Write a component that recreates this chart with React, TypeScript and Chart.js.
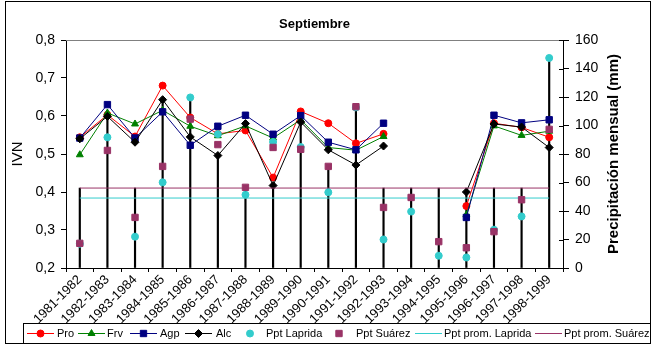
import React, { useEffect, useRef } from "react";
import { Chart, registerables } from "chart.js";
import { drawPoint } from "chart.js/helpers";

Chart.register(...registerables);

const categories = [
  "1981-1982", "1982-1983", "1983-1984", "1984-1985", "1985-1986", "1986-1987",
  "1987-1988", "1988-1989", "1989-1990", "1990-1991", "1991-1992", "1992-1993",
  "1993-1994", "1994-1995", "1995-1996", "1996-1997", "1997-1998", "1998-1999",
];

const pro = [0.544, 0.603, 0.546, 0.68, 0.596, 0.553, 0.562, 0.438, 0.612, 0.581, 0.528, 0.553, null, null, 0.363, 0.581, 0.57, 0.544];
const frv = [0.498, 0.608, 0.579, 0.615, 0.573, 0.548, 0.574, 0.542, 0.59, 0.517, 0.51, 0.546, null, null, 0.34, 0.574, 0.549, 0.56];
const agp = [0.542, 0.63, 0.542, 0.611, 0.523, 0.573, 0.602, 0.552, 0.601, 0.531, 0.511, 0.581, null, null, 0.333, 0.602, 0.582, 0.59];
const alc = [0.54, 0.599, 0.531, 0.643, 0.545, 0.496, 0.58, 0.417, 0.584, 0.511, 0.471, 0.521, null, null, 0.4, 0.579, 0.571, 0.517];

const pptLaprida = [17, 91.7, 22, 60.1, 119.7, 94, 51.4, 88.4, 84.9, 53.1, 112.7, 20, 39.6, 8.6, 7.4, 26.9, 36.2, 147.4];
const pptSuarez = [17.3, 82.5, 35.5, 71.3, 104.5, 86.6, 56.6, 84.6, 83.3, 71.3, 113.2, 42.5, 49.5, 18.5, 14.2, 25.5, 47.9, 97.3];

const pptPromLaprida = [49.1, 49.1, 49.1, 49.1, 49.1, 49.1, 49.1, 49.1, 49.1, 49.1, 49.1, 49.1, 49.1, 49.1, 49.1, 49.1, 49.1, 49.1];
const pptPromSuarez = [56.1, 56.1, 56.1, 56.1, 56.1, 56.1, 56.1, 56.1, 56.1, 56.1, 56.1, 56.1, 56.1, 56.1, 56.1, 56.1, 56.1, 56.1];

// tops of the vertical drop lines (mm, right axis)
const dropLineTop = [56.1, 106.4, 56.1, 118.1, 119.7, 78.8, 56.1, 57.8, 102.9, 71.3, 113.4, 56.1, 56.1, 56.1, 56.1, 56.1, 56.1, 147.4];

const yTicksLeft = { min: 0.2, max: 0.8, step: 0.1 };
const yTicksRight = { min: 0, max: 160, step: 20 };

const FONT = "'Liberation Sans', Arial, sans-serif";
const RED = "#FF0000";
const GREEN = "#008000";
const NAVY = "#000080";
const BLACK = "#000000";
const CYAN = "#33CCCC";
const PURPLE = "#993366";

type LegendItem = {
  label: string;
  color: string;
  line: boolean;
  pointStyle?: string;
  radius?: number;
  symX: number;
  textX: number;
};

const legendItems: LegendItem[] = [
  { label: "Pro", color: RED, line: true, pointStyle: "circle", radius: 3.5, symX: 27, textX: 57 },
  { label: "Frv", color: GREEN, line: true, pointStyle: "triangle", radius: 4, symX: 78, textX: 107 },
  { label: "Agp", color: NAVY, line: true, pointStyle: "rect", radius: 4.5, symX: 130, textX: 160 },
  { label: "Alc", color: BLACK, line: true, pointStyle: "rectRot", radius: 4, symX: 185, textX: 216 },
  { label: "Ppt Laprida", color: CYAN, line: false, pointStyle: "circle", radius: 3.5, symX: 250, textX: 266 },
  { label: "Ppt Suárez", color: PURPLE, line: false, pointStyle: "rect", radius: 4.5, symX: 339, textX: 356 },
  { label: "Ppt prom. Laprida", color: CYAN, line: true, symX: 415, textX: 444 },
  { label: "Ppt prom. Suárez", color: PURPLE, line: true, symX: 535, textX: 564 },
];

const decorPlugin = {
  id: "decor",
  afterDraw(chart: any) {
    const ctx = chart.ctx as CanvasRenderingContext2D;
    const area = chart.chartArea;
    ctx.save();

    // top gray border of plot area
    ctx.strokeStyle = "#808080";
    ctx.lineWidth = 1;
    ctx.beginPath();
    ctx.moveTo(area.left, area.top + 0.5);
    ctx.lineTo(area.right, area.top + 0.5);
    ctx.stroke();

    // inner tick marks on right axis
    const y2 = chart.scales.y2;
    ctx.strokeStyle = BLACK;
    ctx.beginPath();
    for (let v = yTicksRight.min; v <= yTicksRight.max; v += yTicksRight.step) {
      const py = Math.round(y2.getPixelForValue(v)) + 0.5;
      ctx.moveTo(area.right - 4, py);
      ctx.lineTo(area.right, py);
    }
    ctx.stroke();

    // chart title
    ctx.fillStyle = BLACK;
    ctx.font = `bold 13px ${FONT}`;
    ctx.textAlign = "center";
    ctx.textBaseline = "middle";
    ctx.fillText("Septiembre", (area.left + area.right) / 2, 24);

    // left axis title
    ctx.save();
    ctx.translate(18, (area.top + area.bottom) / 2);
    ctx.rotate(-Math.PI / 2);
    ctx.font = `15px ${FONT}`;
    ctx.fillText("IVN", 0, 0);
    ctx.restore();

    // right axis title
    ctx.save();
    ctx.translate(614, (area.top + area.bottom) / 2);
    ctx.rotate(-Math.PI / 2);
    ctx.font = `bold 15px ${FONT}`;
    ctx.fillText("Precipitación mensual (mm)", 0, 0);
    ctx.restore();

    // outer border
    ctx.strokeStyle = BLACK;
    ctx.lineWidth = 1;
    ctx.strokeRect(5.5, 1.5, 645, 342);

    // legend box
    ctx.fillStyle = "#FFFFFF";
    ctx.fillRect(23.5, 323.5, 627, 20);
    ctx.strokeRect(23.5, 323.5, 627, 20);

    const ly = 333.5;
    ctx.font = `11px ${FONT}`;
    ctx.textAlign = "left";
    ctx.textBaseline = "middle";
    for (const it of legendItems) {
      ctx.strokeStyle = it.color;
      ctx.fillStyle = it.color;
      ctx.lineWidth = 1;
      if (it.line) {
        ctx.beginPath();
        ctx.moveTo(it.symX, ly);
        ctx.lineTo(it.symX + 27, ly);
        ctx.stroke();
      }
      if (it.pointStyle) {
        const cx = it.line ? it.symX + 13.5 : it.symX;
        drawPoint(ctx, { pointStyle: it.pointStyle as any, radius: it.radius as number, rotation: 0, borderWidth: 1 }, cx, ly);
      }
      ctx.fillStyle = BLACK;
      ctx.fillText(it.label, it.textX, ly + 0.5);
    }

    ctx.restore();
  },
};

function lineDs(label: string, data: (number | null)[], color: string, pointStyle: string, radius: number, order: number) {
  return {
    type: "line" as const,
    label,
    data,
    yAxisID: "y",
    borderColor: color,
    backgroundColor: color,
    borderWidth: 1,
    pointStyle,
    pointRadius: radius,
    pointBorderWidth: 1,
    pointBorderColor: color,
    pointBackgroundColor: color,
    spanGaps: false,
    tension: 0,
    order,
  };
}

export default function App() {
  const ref = useRef<HTMLCanvasElement | null>(null);

  useEffect(() => {
    if (!ref.current) return;
    const chart = new Chart(ref.current, {
      type: "line",
      data: {
        labels: categories,
        datasets: [
          {
            type: "bar" as const,
            label: "drop",
            data: dropLineTop,
            yAxisID: "y2",
            backgroundColor: BLACK,
            borderWidth: 0,
            barThickness: 1.5,
            order: 100,
          } as any,
          lineDs("Pro", pro, RED, "circle", 3.5, 9),
          lineDs("Frv", frv, GREEN, "triangle", 4, 8),
          lineDs("Agp", agp, NAVY, "rect", 4.5, 7),
          lineDs("Alc", alc, BLACK, "rectRot", 4, 6),
          {
            type: "line" as const,
            label: "Ppt prom. Laprida",
            data: pptPromLaprida,
            yAxisID: "y2",
            borderColor: CYAN,
            borderWidth: 1,
            pointRadius: 0,
            order: 5,
          },
          {
            type: "line" as const,
            label: "Ppt prom. Suárez",
            data: pptPromSuarez,
            yAxisID: "y2",
            borderColor: PURPLE,
            borderWidth: 1,
            pointRadius: 0,
            order: 4,
          },
          {
            type: "line" as const,
            label: "Ppt Laprida",
            data: pptLaprida,
            yAxisID: "y2",
            showLine: false,
            pointStyle: "circle",
            pointRadius: 3.5,
            pointBorderWidth: 1,
            pointBorderColor: CYAN,
            pointBackgroundColor: CYAN,
            borderColor: CYAN,
            backgroundColor: CYAN,
            order: 3,
          },
          {
            type: "line" as const,
            label: "Ppt Suárez",
            data: pptSuarez,
            yAxisID: "y2",
            showLine: false,
            pointStyle: "rect",
            pointRadius: 4.5,
            pointBorderWidth: 1,
            pointBorderColor: PURPLE,
            pointBackgroundColor: PURPLE,
            borderColor: PURPLE,
            backgroundColor: PURPLE,
            order: 2,
          },
        ],
      },
      options: {
        responsive: false,
        animation: false,
        devicePixelRatio: 1,
        layout: { padding: { top: 40, left: 0, right: 0, bottom: 0 } },
        plugins: {
          legend: { display: false },
          title: { display: false },
          tooltip: { enabled: false },
        },
        scales: {
          x: {
            type: "category",
            offset: true,
            grid: { offset: true, drawOnChartArea: false, drawTicks: true, tickLength: 4, color: BLACK },
            border: { color: BLACK, width: 1 },
            ticks: {
              autoSkip: false,
              maxRotation: 45,
              minRotation: 45,
              padding: 0,
              color: BLACK,
              font: { family: FONT, size: 13 },
            },
            afterFit: (s: any) => {
              s.height = 82;
            },
          },
          y: {
            position: "left",
            min: yTicksLeft.min,
            max: yTicksLeft.max,
            grid: { drawOnChartArea: false, drawTicks: true, tickLength: 5, color: BLACK },
            border: { color: BLACK, width: 1 },
            ticks: {
              stepSize: yTicksLeft.step,
              padding: 6,
              color: BLACK,
              font: { family: FONT, size: 14 },
              callback: (v: any) => Number(v).toFixed(1).replace(".", ","),
            },
            afterFit: (s: any) => {
              s.width = 66;
            },
          },
          y2: {
            position: "right",
            min: yTicksRight.min,
            max: yTicksRight.max,
            grid: { drawOnChartArea: false, drawTicks: true, tickLength: 6, color: BLACK },
            border: { color: BLACK, width: 1 },
            ticks: {
              stepSize: yTicksRight.step,
              padding: 6,
              color: BLACK,
              font: { family: FONT, size: 14 },
            },
            afterFit: (s: any) => {
              s.width = 93;
            },
          },
        },
      } as any,
      plugins: [decorPlugin],
    });
    return () => chart.destroy();
  }, []);

  return (
    <div style={{ position: "absolute", left: 0, top: 0, width: 656, height: 350, background: "#fff" }}>
      <canvas ref={ref} width={656} height={350} style={{ display: "block", width: 656, height: 350 }} />
    </div>
  );
}
